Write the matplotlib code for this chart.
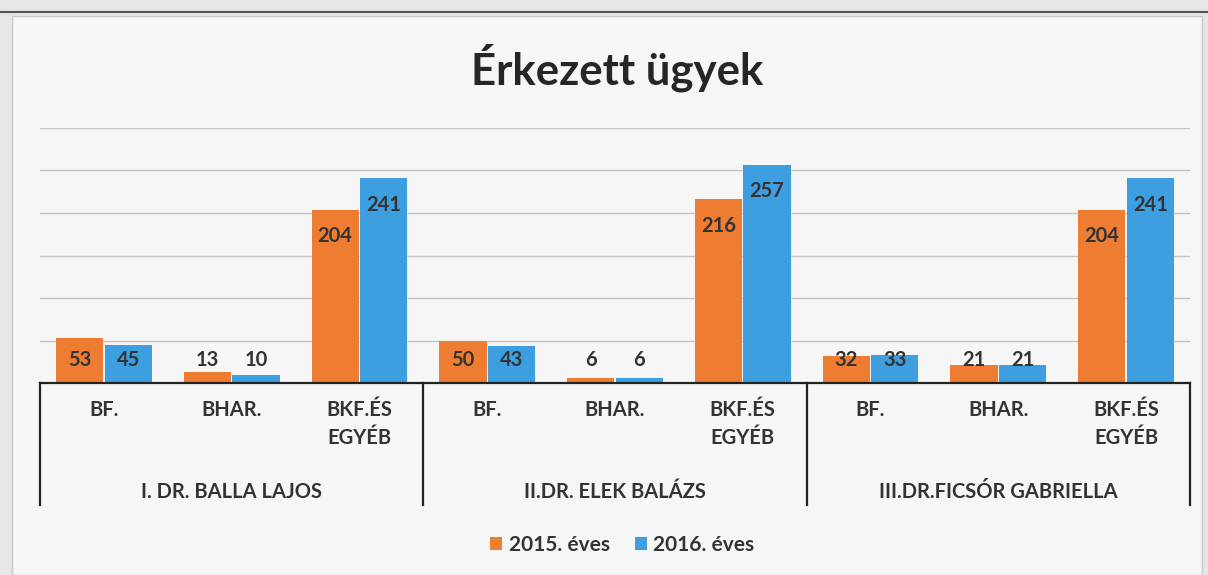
import numpy as np
import matplotlib.pyplot as plt
from matplotlib.patches import Rectangle

title = "Érkezett ügyek"
groups = ["I. DR. BALLA LAJOS", "II.DR. ELEK BALÁZS", "III.DR.FICSÓR GABRIELLA"]
categories = ["BF.", "BHAR.", "BKF.ÉS\nEGYÉB"]
series_names = ["2015. éves", "2016. éves"]
vals_2015 = [53, 13, 204, 50, 6, 216, 32, 21, 204]
vals_2016 = [45, 10, 241, 43, 6, 257, 33, 21, 241]

c_orange = "#ee7d32"
c_blue = "#3d9fe0"
txt = "#333333"

plt.rcParams['font.family'] = ['Lato', 'DejaVu Sans']

fig = plt.figure(figsize=(12.08, 5.75), dpi=100)
fig.patch.set_facecolor("#e6e6e6")
# chart area background and scan edge line
fig.add_artist(Rectangle((0.010, 0.0), 0.985, 0.973, transform=fig.transFigure,
                         facecolor="#f6f6f6", edgecolor="#c8c8c8", lw=1.0, zorder=-5))
fig.add_artist(plt.Line2D([0, 1], [0.979, 0.979], transform=fig.transFigure,
                          color="#555555", lw=1.5))

ax = fig.add_axes([0.0331, 0.3339, 0.9520, 0.4435])
ax.set_facecolor("none")

n = len(vals_2015)
x = np.arange(n) + 0.5
w = 0.37
off = 0.19
b1 = ax.bar(x - off, vals_2015, w, color=c_orange, zorder=3, label=series_names[0])
b2 = ax.bar(x + off, vals_2016, w, color=c_blue, zorder=3, label=series_names[1])

ax.set_xlim(0, n)
ax.set_ylim(0, 300)
ax.set_yticks(np.arange(50, 301, 50))
ax.yaxis.grid(True, color="#c4c4c4", lw=1.0, zorder=0)
ax.tick_params(left=False, labelleft=False, bottom=False, labelbottom=False)
for s in ax.spines.values():
    s.set_visible(False)

# data labels, inside end, kept above the axis for small bars
for xs, vals in [(x - off, vals_2015), (x + off, vals_2016)]:
    for xi, v in zip(xs, vals):
        ax.text(xi, max(v - 31.5, 27), str(v), ha="center", va="center",
                fontsize=14.5, fontweight="bold", color=txt, zorder=4)

# multi-level category axis
tr = ax.get_xaxis_transform()
ax.plot([0, n], [0, 0], color="#222222", lw=1.6, transform=tr, clip_on=False, zorder=5)
for gx in range(0, n + 1, 3):
    ax.plot([gx, gx], [0, -0.478], color="#222222", lw=1.6, transform=tr, clip_on=False)
for i in range(n):
    ax.text(x[i], -0.068, categories[i % 3], ha="center", va="top", transform=tr,
            fontsize=14.5, fontweight="bold", color=txt, linespacing=1.5)
for g, name in enumerate(groups):
    ax.text(g * 3 + 1.5, -0.427, name, ha="center", va="center", transform=tr,
            fontsize=14.5, fontweight="bold", color=txt)

fig.text(0.511, 0.882, title, ha="center", va="center", fontsize=31.5,
         fontweight="bold", color="#262626")

fig.legend(handles=[b1, b2], labels=series_names, loc="center",
           bbox_to_anchor=(0.515, 0.052), ncol=2, frameon=False,
           handlelength=0.6, handleheight=0.6, handletextpad=0.3, columnspacing=1.2,
           prop={"size": 15, "weight": "bold"}, labelcolor=txt)

fig.savefig("out.png", dpi=100, facecolor=fig.get_facecolor())
